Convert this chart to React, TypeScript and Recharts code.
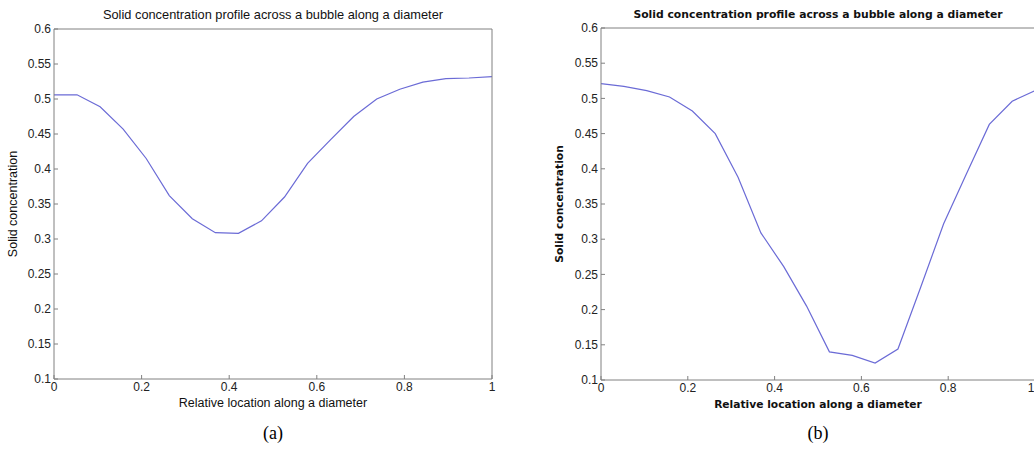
import { LineChart, Line, XAxis, YAxis } from "recharts";

// x positions: 20 evenly spaced samples along the diameter (i/19)
const locations = [
  0, 0.0526, 0.1053, 0.1579, 0.2105, 0.2632, 0.3158, 0.3684, 0.4211, 0.4737,
  0.5263, 0.5789, 0.6316, 0.6842, 0.7368, 0.7895, 0.8421, 0.8947, 0.9474, 1,
];
const profileA = [
  0.506, 0.506, 0.489, 0.457, 0.415, 0.362, 0.329, 0.309, 0.308, 0.326,
  0.36, 0.408, 0.442, 0.475, 0.5, 0.514, 0.524, 0.529, 0.53, 0.532,
];
const profileB = [
  0.521, 0.517, 0.511, 0.502, 0.482, 0.45, 0.388, 0.309, 0.261, 0.205,
  0.14, 0.135, 0.124, 0.144, 0.232, 0.322, 0.393, 0.463, 0.496, 0.511,
];
const xTicks = [0, 0.2, 0.4, 0.6, 0.8, 1];
const yTicks = [0.1, 0.15, 0.2, 0.25, 0.3, 0.35, 0.4, 0.45, 0.5, 0.55, 0.6];
const title = "Solid concentration profile across a bubble along a diameter";
const xLabel = "Relative location along a diameter";
const yLabel = "Solid concentration";

const rowsA = locations.map((x, i) => ({ x, y: profileA[i] }));
const rowsB = locations.map((x, i) => ({ x, y: profileB[i] }));

const frame = "#808080";
const tickText = { fill: "#222", fontSize: 12, fontFamily: "Liberation Sans, Arial, sans-serif" };

type Box = { top: number; right: number; bottom: number; left: number };

function Panel({
  rows,
  left,
  width,
  plot,
  bold,
  caption,
}: {
  rows: { x: number; y: number }[];
  left: number;
  width: number;
  plot: Box; // where the plot frame sits
  bold: boolean;
  caption: string;
}) {
  // each axis takes 1px, so pull the margins in by 1
  const margin = { top: plot.top - 1, right: plot.right - 1, bottom: plot.bottom - 1, left: plot.left - 1 };
  const plotW = width - plot.left - plot.right;
  const centre = plot.left + plotW / 2;
  const plotH = 457 - plot.top - plot.bottom;
  const titleFont = bold
    ? { fontFamily: "DejaVu Sans, sans-serif", fontWeight: 700, fontSize: 10.8 }
    : { fontFamily: "Liberation Sans, Arial, sans-serif", fontWeight: 400, fontSize: 12.8 };
  const labelFont = bold
    ? { fontFamily: "DejaVu Sans, sans-serif", fontWeight: 700, fontSize: 10.7 }
    : { fontFamily: "Liberation Sans, Arial, sans-serif", fontWeight: 400, fontSize: 12.5 };
  const yMid = plot.top + plotH / 2;
  const yLabX = plot.left - (bold ? 38 : 37);
  return (
    <div style={{ position: "absolute", left, top: 0, width, height: 457, overflow: "hidden" }}>
      <LineChart width={width} height={457} data={rows} margin={margin}>
        <XAxis
          xAxisId="b"
          dataKey="x"
          type="number"
          domain={[0, 1]}
          ticks={xTicks}
          height={1}
          stroke={frame}
          tickSize={-4}
          tickMargin={7}
          tick={tickText}
          tickFormatter={(v: number) => String(v)}
        />
        <XAxis
          xAxisId="t"
          dataKey="x"
          type="number"
          orientation="top"
          domain={[0, 1]}
          ticks={xTicks}
          height={1}
          stroke={frame}
          tickSize={-4}
          tick={false}
        />
        <YAxis
          yAxisId="l"
          type="number"
          domain={[0.1, 0.6]}
          ticks={yTicks}
          width={1}
          stroke={frame}
          tickSize={-4}
          tickMargin={7}
          tick={tickText}
          tickFormatter={(v: number) => String(v)}
        />
        <YAxis
          yAxisId="r"
          type="number"
          orientation="right"
          domain={[0.1, 0.6]}
          ticks={yTicks}
          width={1}
          stroke={frame}
          tickSize={-4}
          tick={false}
        />
        <Line
          xAxisId="b"
          yAxisId="l"
          type="linear"
          dataKey="y"
          stroke="#6b6bd6"
          strokeWidth={1.2}
          dot={false}
          isAnimationActive={false}
        />
        <text x={centre} y={plot.top - 10} textAnchor="middle" fill="#111" {...titleFont}>
          {title}
        </text>
        <text x={centre} y={plot.top + plotH + 28} textAnchor="middle" fill="#111" {...labelFont}>
          {xLabel}
        </text>
        <text
          x={yLabX}
          y={yMid}
          textAnchor="middle"
          fill="#111"
          transform={`rotate(-90 ${yLabX} ${yMid})`}
          {...labelFont}
        >
          {yLabel}
        </text>
        <text
          x={centre}
          y={439}
          textAnchor="middle"
          fill="#000"
          fontFamily="Liberation Serif, Times New Roman, serif"
          fontSize={18}
        >
          {caption}
        </text>
      </LineChart>
    </div>
  );
}

export default function App() {
  return (
    <div style={{ position: "absolute", left: 0, top: 0, width: 1034, height: 457, background: "#fff", overflow: "hidden" }}>
      <Panel rows={rowsA} left={0} width={520} plot={{ top: 29, right: 28, bottom: 78, left: 54 }} bold={false} caption="(a)" />
      <Panel rows={rowsB} left={520} width={514} plot={{ top: 28, right: -1, bottom: 77, left: 81 }} bold caption="(b)" />
    </div>
  );
}
